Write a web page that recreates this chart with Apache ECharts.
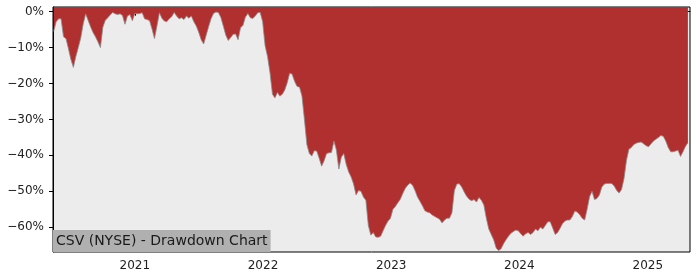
<!DOCTYPE html>
<html>
<head>
<meta charset="utf-8">
<script src="https://cdn.jsdelivr.net/npm/echarts@6/dist/echarts.min.js"></script>
<style>html,body{margin:0;padding:0;background:#fff}#c{width:700px;height:280px}</style>
</head>
<body>
<div id="c"></div>
<script>
// Weekly drawdown samples (percent), starting 2020-05-15
const startDate = '2020-05-15';
const drawdown = [
-5.5,-2.8,-2,-2,-7,-7.5,-10.3,-13.3,-15.5,-12.5,
-10,-7.3,-3.4,-0.6,-2.4,-4.2,-5.8,-7,-8.4,-10,
-4.3,-2.4,-1.7,-0.9,-0.2,-0.6,-0.8,-0.6,-1.1,-3.5,
-1.2,-0.8,-2.5,-0.5,-0.6,-0.5,-0.3,-2,-2.2,-2.5,
-4.8,-7.5,-4,-0.3,-1.8,-2.6,-2.8,-2,-1.4,-0.2,
-1.2,-2,-1.7,-2.2,-1.2,-1.8,-1.2,-2.8,-4,-5.7,
-7.8,-9,-6.6,-4.2,-2,-0.5,-0.1,-0.2,-1.6,-4,
-6.5,-8,-7.2,-6.3,-6.2,-7.8,-4.5,-3.8,-1.5,-0.5,
-1.7,-1.9,-1.2,-0.3,-0.2,-2.8,-9.5,-12.5,-17,-23,
-24,-22.5,-23.5,-23,-21.8,-19.8,-17.1,-17.4,-19.4,-20.8,
-21,-23.5,-30,-37,-39.5,-40.2,-38.7,-38.8,-40.8,-43,
-41.5,-39.5,-39.3,-39.2,-36,-38.5,-43.8,-40.5,-39.5,-42.5,
-44.6,-46,-48,-51,-49.8,-50,-51.6,-52.5,-59.5,-62.2,
-61.5,-62.7,-62.8,-62.5,-61,-59.5,-58.3,-57.5,-55,-54.2,
-53.2,-52.2,-50.6,-49.2,-48.3,-47.7,-48.3,-49.8,-51.6,-52.8,
-54,-55.4,-55.8,-56,-56.6,-57,-57.4,-57.8,-58.8,-58,
-57.5,-57.5,-56,-49.8,-48,-47.9,-48.8,-50.2,-51.4,-52.2,
-52.6,-52.3,-53,-51.7,-52.5,-53.8,-57.5,-60.5,-62,-63.5,
-65.8,-66.5,-66,-64.6,-63.5,-62.5,-61.7,-61.2,-60.8,-61,
-61.8,-62.5,-61.8,-61.5,-62,-61.5,-60.5,-61,-60,-60.5,
-59.5,-58.5,-58.5,-60.2,-62,-61.5,-60.3,-59,-58.3,-58,
-58,-57,-55.5,-55.8,-56.5,-57.5,-58,-55,-51.5,-50,
-52.3,-52,-51,-48.8,-48,-47.8,-47.8,-47.8,-48.5,-49.7,
-50.5,-49.5,-46.5,-41.4,-38.3,-37.8,-37,-36.6,-36.4,-36.3,
-36.8,-37.3,-37.6,-36.8,-36,-35.5,-35,-34.5,-34.7,-36,
-37.8,-39,-39,-38.8,-38.6,-40.3,-39,-37.5,-36.5
];
const yearTicks = ['2021','2022','2023','2024','2025'];
const yTicks = [0,-10,-20,-30,-40,-50,-60];
const titleText = 'CSV (NYSE) - Drawdown Chart';

const DAY = 86400000;
const t0 = Date.parse(startDate + 'T00:00:00Z');
const seriesData = drawdown.map((v, i) => [t0 + i * 7 * DAY, v]);
const yearTs = yearTicks.map(y => Date.parse(y + '-01-01T00:00:00Z'));

const chart = echarts.init(document.getElementById('c'), null, {renderer: 'canvas'});
chart.setOption({
  animation: false,
  textStyle: {fontFamily: 'DejaVu Sans'},
  grid: {left: 53, right: 10, top: 7, bottom: 28, show: true, backgroundColor: '#ececec', borderColor: '#000', borderWidth: 1},
  title: {
    text: titleText, left: 53, bottom: 28,
    backgroundColor: '#b0b0b0', padding: [3, 3, 3, 3],
    textStyle: {fontFamily: 'DejaVu Sans', fontSize: 14, fontWeight: 'normal', color: '#1a1a1a', lineHeight: 16}
  },
  xAxis: {
    type: 'value',
    min: Date.parse('2020-05-13T00:00:00Z'),
    max: Date.parse('2025-05-01T00:00:00Z'),
    splitLine: {show: false},
    axisLine: {lineStyle: {color: '#000', width: 1}},
    axisTick: {show: true, length: 4, lineStyle: {color: '#000'}, customValues: yearTs},
    axisLabel: {customValues: yearTs, color: '#222', fontSize: 12, margin: 8,
      formatter: v => String(new Date(v).getUTCFullYear())}
  },
  yAxis: {
    type: 'value', min: -66.9, max: 1.3,
    splitLine: {show: false},
    axisLine: {show: true, lineStyle: {color: '#000', width: 1}},
    axisTick: {show: true, length: 4, lineStyle: {color: '#000'}, customValues: yTicks},
    axisLabel: {customValues: yTicks, color: '#222', fontSize: 12, margin: 9,
      formatter: v => (v < 0 ? '\u2212' : '') + Math.abs(v) + '%'}
  },
  series: [{
    type: 'line',
    data: seriesData,
    showSymbol: false,
    lineStyle: {color: '#8a8a8a', width: 0.8},
    areaStyle: {color: '#b03030', opacity: 1, origin: 'end'},
    z: 1
  }]
});
</script>
</body>
</html>
